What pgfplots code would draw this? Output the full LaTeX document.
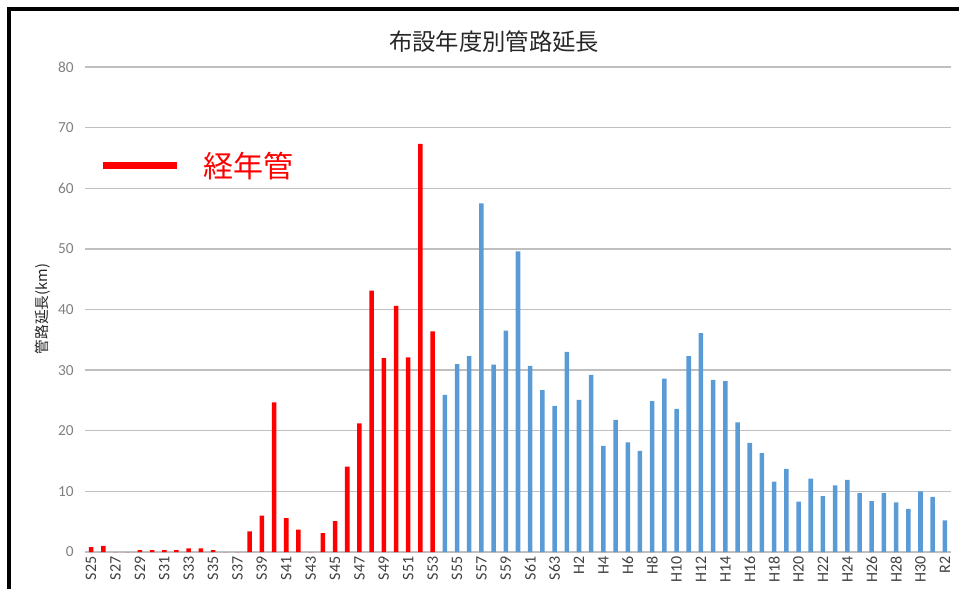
\documentclass[border=0pt]{standalone}
\usepackage{pgfplots}
\pgfplotsset{compat=1.18}
\usepackage{fontspec}
\setmainfont{Carlito}
\newfontfamily\cjk{Noto Sans CJK JP}
\definecolor{barblue}{HTML}{5B9BD5}
\definecolor{barred}{HTML}{FF0000}
\definecolor{gridgray}{HTML}{BFBFBF}
\definecolor{ytickgray}{HTML}{808080}
\definecolor{xtickgray}{HTML}{404040}
\begin{document}
\begin{tikzpicture}
\useasboundingbox (0pt,0pt) rectangle (719.25pt,441.75pt);
\draw[line width=2.6pt] (6.75pt,0pt) -- (6.75pt,435pt) -- (719.25pt,435pt);
\begin{axis}[
  at={(63.75pt,27.75pt)}, anchor=south west,
  scale only axis, width=649.5pt, height=363.75pt,
  xmin=-0.5, xmax=70.5, ymin=0, ymax=80,
  ybar, bar width=3.4pt, bar shift=0pt,
  axis x line*=bottom, axis y line*=left,
  x axis line style={gridgray, line width=1pt, -},
  y axis line style={draw=none},
  ymajorgrids, grid style={gridgray, line width=1pt},
  ytick={0,10,...,80},
  xtick={0,2,...,70},
  xticklabels={S25,S27,S29,S31,S33,S35,S37,S39,S41,S43,S45,S47,S49,S51,S53,S55,S57,S59,S61,S63,H2,H4,H6,H8,H10,H12,H14,H16,H18,H20,H22,H24,H26,H28,H30,R2},
  major tick length=0pt,
  xticklabel style={rotate=90, anchor=east, font=\fontsize{12}{14}\selectfont, text=xtickgray},
  yticklabel style={font=\fontsize{11.5}{13}\selectfont, text=ytickgray, xshift=-5pt},
  /pgf/number format/assume math mode=true,
  legend style={at={(0.0173,0.796)}, anchor=west, draw=none, fill=none, inner sep=0pt, outer sep=0pt,
    font=\cjk\fontsize{22.5}{24}\selectfont, text=barred, column sep=15pt},
  legend image code/.code={\draw[barred, line width=5.25pt] (0pt,0pt) -- (55.5pt,0pt);},
]
% red: S25-S53 (index 0-28)
\addplot[fill=barred, draw=none] coordinates {
(0,0.8) (1,1.0) (2,0) (3,0) (4,0.3) (5,0.3) (6,0.3) (7,0.3) (8,0.6) (9,0.6)
(10,0.3) (11,0) (12,0) (13,3.4) (14,6.0) (15,24.7) (16,5.6) (17,3.7) (18,0) (19,3.1)
(20,5.1) (21,14.1) (22,21.2) (23,43.1) (24,32.0) (25,40.6) (26,32.1) (27,67.3) (28,36.4)
};
\addlegendentry{経年管}
% blue: S54-R2 (index 29-70)
\addplot[fill=barblue, draw=none, forget plot] coordinates {
(29,25.9) (30,31.0) (31,32.3) (32,57.5) (33,30.9) (34,36.5) (35,49.6) (36,30.7) (37,26.7) (38,24.1)
(39,33.0) (40,25.1) (41,29.2) (42,17.5) (43,21.8) (44,18.1) (45,16.7) (46,24.9) (47,28.6) (48,23.6)
(49,32.3) (50,36.1) (51,28.4) (52,28.2) (53,21.4) (54,18.0) (55,16.3) (56,11.6) (57,13.7) (58,8.3)
(59,12.1) (60,9.2) (61,11.0) (62,11.9) (63,9.7) (64,8.4) (65,9.7) (66,8.2) (67,7.1) (68,10.0)
(69,9.1) (70,5.2)
};
\end{axis}
\node[font=\cjk\fontsize{17.5}{19}\selectfont, text=black!85] at (370.5pt,410.25pt) {布設年度別管路延長};
\node[rotate=90, font=\cjk\fontsize{11}{13}\selectfont, text=black!85] at (32.25pt,210pt) {管路延長(km)};
\end{tikzpicture}
\end{document}
